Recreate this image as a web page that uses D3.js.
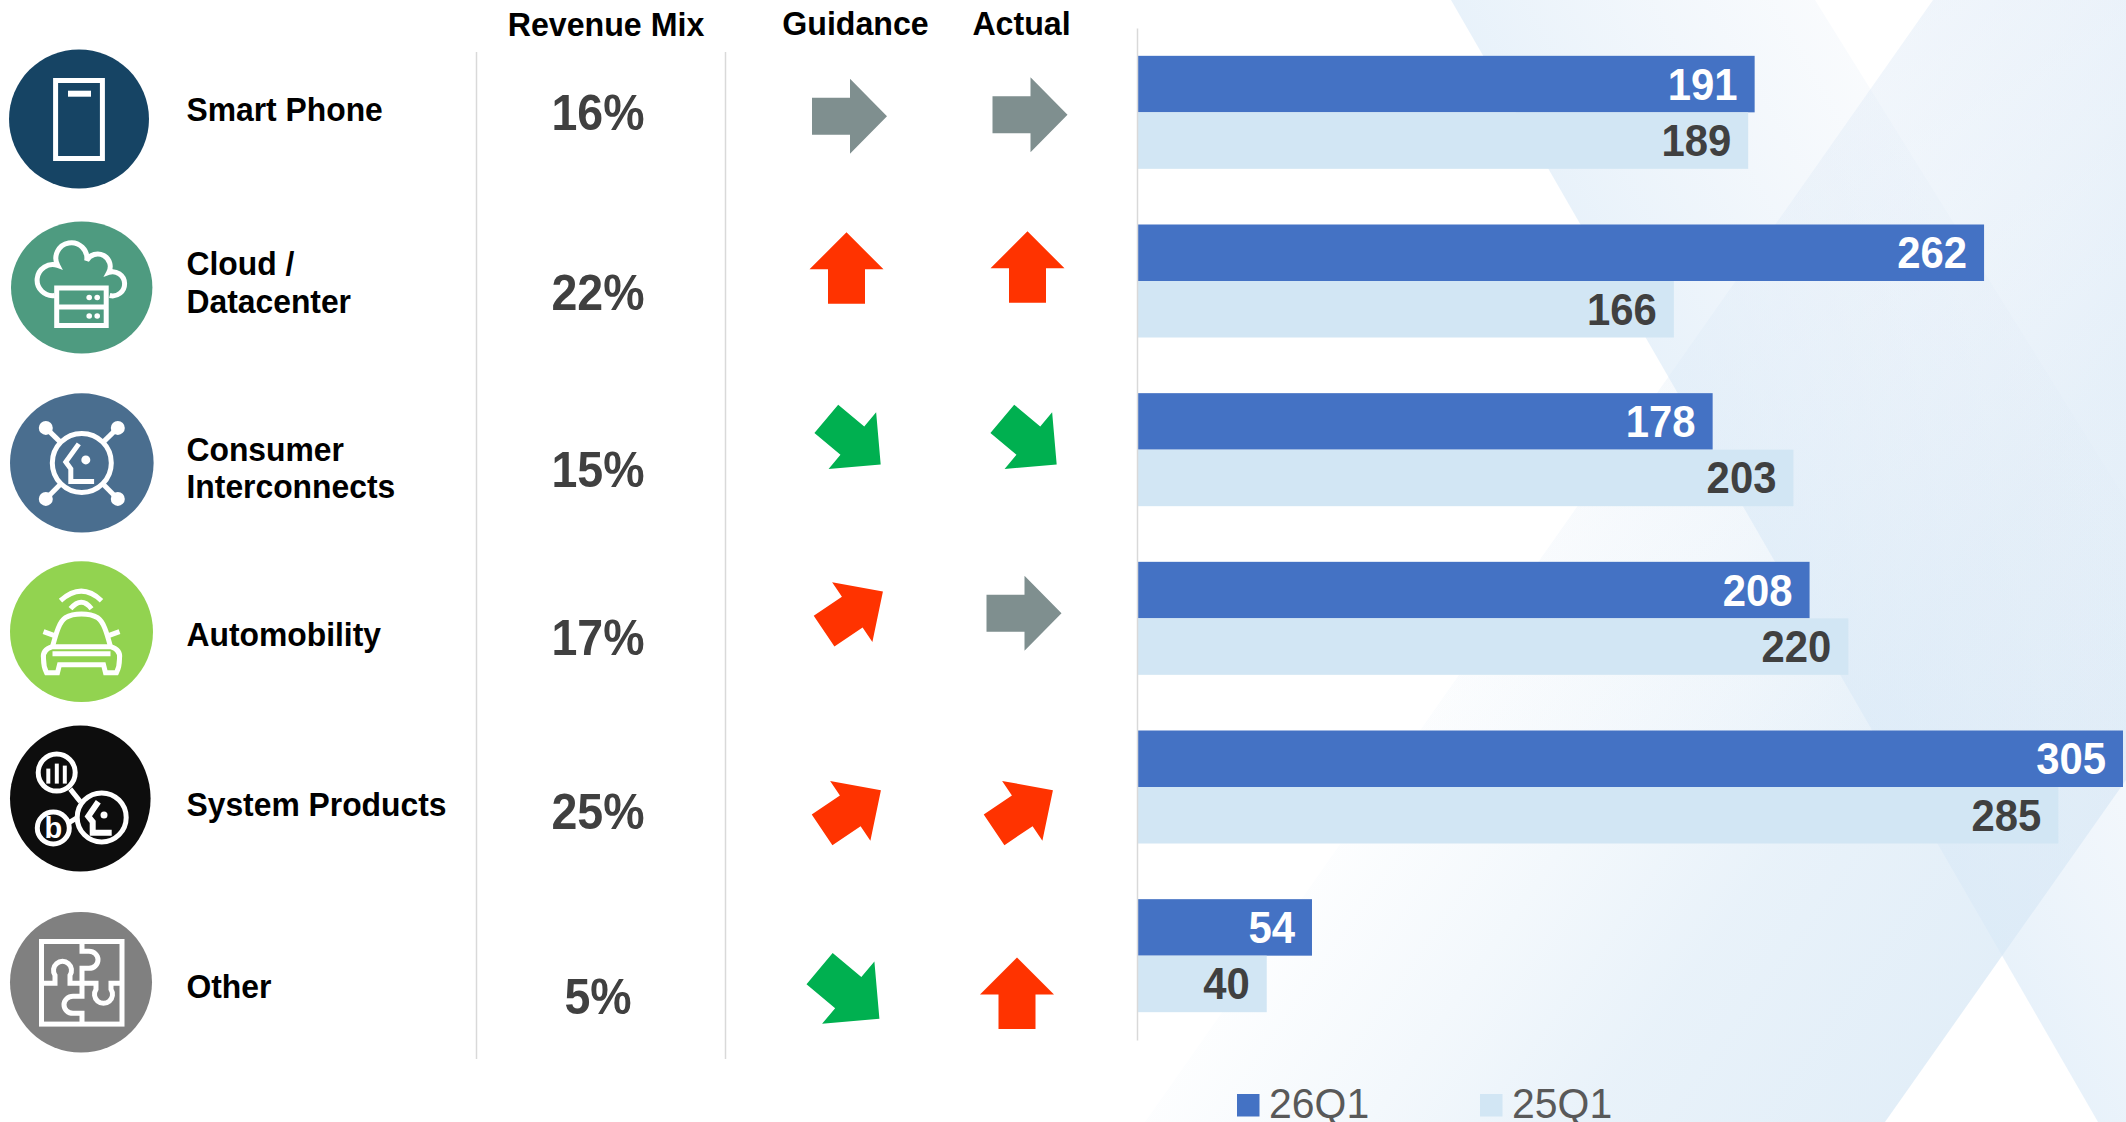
<!DOCTYPE html>
<html>
<head>
<meta charset="utf-8">
<script src="https://cdn.jsdelivr.net/npm/d3@7"></script>
<style>
  html, body { margin: 0; background: #fff; }
  svg { display: block; }
  text { font-family: "Liberation Sans", Arial, sans-serif; }
</style>
</head>
<body>
<svg></svg>
<script>
const categories = ["Smart Phone", "Cloud / Datacenter", "Consumer Interconnects", "Automobility", "System Products", "Other"];
const labelLines = [["Smart Phone"], ["Cloud /", "Datacenter"], ["Consumer", "Interconnects"], ["Automobility"], ["System Products"], ["Other"]];
const seriesNames = ["26Q1", "25Q1"];
const values26Q1 = [191, 262, 178, 208, 305, 54];
const values25Q1 = [189, 166, 203, 220, 285, 40];
const revenueMix = ["16%", "22%", "15%", "17%", "25%", "5%"];
const guidance = ["flat", "up", "down", "rise", "rise", "down"];
const actual = ["flat", "up", "down", "flat", "rise", "up"];
const arrowColumns = ["Guidance", "Actual"];

// hand placement of the row furniture, the source slide isn't on a strict grid
const labelDy = [9, -6, 11, 28, 29, 42];
const mixDy = [18, 29, 37, 37, 42, 58];
const guidanceNudge = [[-6, 4], [-9, -13], [-2, -8], [-2, -7], [-4, 23], [-6, 38]];
const actualNudge = [[8.5, 2.4], [6, -14], [8, -8], [2.5, -5], [2, 23], [-4.5, 37.6]];
const guidanceScale = [1, 1, 1, 1, 1, 1.1];
const actualScale = [1, 1, 1, 1, 1, 1];
const iconSpots = [[79, 119, 70, 69.5], [81.7, 287.5, 70.7, 66], [81.8, 462.9, 71.8, 69.6], [81.5, 631.7, 71.5, 70.4], [80.3, 798.6, 70.3, 73], [81, 982.3, 71, 70.3]];
const iconColors = ["#164464", "#4e9b80", "#4a6e8f", "#92d350", "#0d0d0d", "#808080"];

const width = 2126, height = 1122;
const svg = d3.select("svg").attr("width", width).attr("height", height);

// background X, gradients run across each band
const defs = svg.append("defs");
function gradient(id, x1, x2, stops) {
  const g = defs.append("linearGradient").attr("id", id).attr("gradientUnits", "userSpaceOnUse")
    .attr("x1", x1[0]).attr("y1", x1[1]).attr("x2", x2[0]).attr("y2", x2[1]);
  stops.forEach(s => g.append("stop").attr("offset", s[0]).attr("stop-color", s[1]).attr("stop-opacity", s[2]));
}
gradient("bandA", [1451, 0], [1724, -158], [[0, "#d9e9f7", 0.6], [1, "#dfeaf6", 0.2]]);
gradient("bandB", [1933, 0], [2429, 348], [[0, "#d6e7f5", 0.06], [0.35, "#d6e7f5", 0.33], [0.6, "#d6e7f5", 0.55], [1, "#d6e7f5", 0.7]]);
gradient("bandTop", [0, 0], [0, 800], [[0, "#dce8f6", 0.4], [1, "#dce8f6", 0]]);
const bg = svg.append("g");
const slashBand = "M1933 0L2126 0L2126 780L1885 1122L1145 1122Z";
bg.append("path").attr("d", slashBand).attr("fill", "url(#bandB)");
bg.append("path").attr("d", slashBand).attr("fill", "url(#bandTop)");
bg.append("path").attr("d", "M1451 0L1815 0L2126 500L2126 1122L2098 1122Z").attr("fill", "url(#bandA)");

// scales
const y = d3.scaleBand().domain(categories).range([28, 1040]).paddingInner(0.33).paddingOuter(0.165);
const rowCenter = d => y(d) + y.bandwidth() / 2;
const y1 = d3.scaleBand().domain(seriesNames).range([0, y.bandwidth()]);
const x = d3.scaleLinear().domain([0, 305]).range([1137.5, 2123]);
const arrowX = d3.scalePoint().domain(arrowColumns).range([855.5, 1021.5]);

// separators
svg.selectAll(".sep").data([476.5, 725.5]).enter().append("line")
  .attr("class", "sep")
  .attr("x1", d => d).attr("x2", d => d)
  .attr("y1", 52).attr("y2", 1059)
  .attr("stroke", "#d9d9d9").attr("stroke-width", 1.5);

// headers
const headers = [["Revenue Mix", 606, 36], ["Guidance", arrowX("Guidance"), 35], ["Actual", arrowX("Actual"), 35]];
svg.selectAll(".header").data(headers).enter().append("text")
  .attr("class", "header")
  .attr("transform", d => `translate(${d[1]},${d[2]}) scale(0.96,1)`)
  .attr("text-anchor", "middle")
  .attr("font-size", 33.5).attr("font-weight", 700).attr("fill", "#000")
  .text(d => d[0]);

// row labels
const labels = svg.selectAll(".row-label").data(categories).enter().append("text")
  .attr("class", "row-label")
  .attr("transform", (d, i) => `translate(186.5,${rowCenter(d) + labelDy[i]}) scale(0.965,1)`)
  .attr("font-size", 33).attr("font-weight", 700).attr("fill", "#000");
labels.selectAll("tspan").data((d, i) => labelLines[i]).enter().append("tspan")
  .attr("x", 0)
  .attr("y", (d, i) => i * 37.7)
  .text(d => d);

// revenue mix
svg.selectAll(".mix").data(categories).enter().append("text")
  .attr("class", "mix")
  .attr("transform", (d, i) => `translate(598,${rowCenter(d) + mixDy[i]}) scale(0.93,1)`)
  .attr("text-anchor", "middle")
  .attr("font-size", 50).attr("font-weight", 700).attr("fill", "#404040")
  .text((d, i) => revenueMix[i]);

// arrows
const arrowStyle = {
  flat: { angle: 0, len: 75, across: 75, fill: "#7f8f8f" },
  up: { angle: -90, len: 71.4, across: 74, fill: "#ff3300" },
  down: { angle: 40, len: 71, across: 74, fill: "#00b050" },
  rise: { angle: -34, len: 71, across: 72, fill: "#ff3300" }
};
function arrowPath(s) {
  const l = s.len / 2, w = s.across / 2, t = 18.5, b = l - 37;
  return d3.line()([[-l, -t], [b, -t], [b, -w], [l, 0], [b, w], [b, t], [-l, t]]) + "Z";
}
function drawArrows(column, dirs, nudge, scale) {
  svg.selectAll(".arrow-" + column).data(categories).enter().append("path")
    .attr("class", "arrow-" + column)
    .attr("d", (d, i) => arrowPath(arrowStyle[dirs[i]]))
    .attr("fill", (d, i) => arrowStyle[dirs[i]].fill)
    .attr("transform", (d, i) => `translate(${arrowX(column) + nudge[i][0]},${rowCenter(d) + nudge[i][1]}) rotate(${arrowStyle[dirs[i]].angle}) scale(${scale[i]})`);
}
drawArrows("Guidance", guidance, guidanceNudge, guidanceScale);
drawArrows("Actual", actual, actualNudge, actualScale);

// bars
const barColors = d3.scaleOrdinal().domain(seriesNames).range(["#4472c4", "#d2e6f4"]);
const labelColors = d3.scaleOrdinal().domain(seriesNames).range(["#fff", "#404040"]);
const seriesValues = [values26Q1, values25Q1];
seriesNames.forEach((name, s) => {
  const g = svg.append("g");
  g.selectAll("rect").data(categories).enter().append("rect")
    .attr("x", x(0))
    .attr("y", d => y(d) + y1(name))
    .attr("width", (d, i) => x(seriesValues[s][i]) - x(0))
    .attr("height", y1.bandwidth())
    .attr("fill", barColors(name));
  g.selectAll("text").data(categories).enter().append("text")
    .attr("transform", (d, i) => `translate(${x(seriesValues[s][i]) - 17},${y(d) + y1(name) + y1.bandwidth() / 2 + 15.5}) scale(0.93,1)`)
    .attr("text-anchor", "end")
    .attr("font-size", 45).attr("font-weight", 700)
    .attr("fill", labelColors(name))
    .text((d, i) => seriesValues[s][i]);
});

// category axis line
svg.append("g")
  .attr("transform", "translate(1137,0)")
  .call(d3.axisLeft(y).tickSize(0).tickFormat(""))
  .call(g => g.select(".domain").attr("stroke", "#d9d9d9").attr("stroke-width", 1.5));

// legend
const legendX = d3.scaleOrdinal().domain(seriesNames).range([1237, 1480]);
const legend = svg.selectAll(".legend").data(seriesNames).enter().append("g")
  .attr("class", "legend")
  .attr("transform", d => `translate(${legendX(d)},1094)`);
legend.append("rect").attr("width", 22.5).attr("height", 22.5).attr("fill", d => barColors(d));
legend.append("text").attr("transform", "translate(32,24) scale(0.975,1)")
  .attr("font-size", 42).attr("fill", "#595959")
  .text(d => d);

// icons
const icons = svg.selectAll(".icon").data(iconSpots).enter().append("g")
  .attr("class", "icon")
  .attr("transform", d => `translate(${d[0]},${d[1]})`);
icons.append("ellipse")
  .attr("rx", d => d[2]).attr("ry", d => d[3])
  .attr("fill", (d, i) => iconColors[i]);
const glyph = icons.append("g")
  .attr("fill", "none").attr("stroke", "#fff").attr("stroke-width", 5)
  .attr("stroke-linecap", "butt").attr("stroke-linejoin", "miter");
const face = "M-3 -19L-16 -1L-11 6L-11 18.6L12.3 18.6";

// phone
const g0 = d3.select(glyph.nodes()[0]);
g0.append("rect").attr("x", -23.4).attr("y", -38.5).attr("width", 46.8).attr("height", 78);
g0.append("rect").attr("x", -11).attr("y", -28.3).attr("width", 23).attr("height", 6).attr("fill", "#fff").attr("stroke", "none");

// cloud + server
const g1 = d3.select(glyph.nodes()[1]);
g1.append("path").attr("d", "M-27 8A15.5 15.5 0 1 1 -24 -22A15.5 15.5 0 1 1 5 -27A12.5 12.5 0 0 1 27 -15A12 12 0 1 1 28 8");
g1.append("rect").attr("x", -25).attr("y", 0.5).attr("width", 49.5).attr("height", 37.5).attr("fill", iconColors[1]);
g1.append("line").attr("x1", -25).attr("x2", 24.5).attr("y1", 19.5).attr("y2", 19.5);
[[7.5, 10], [15.5, 10], [7.5, 28.5], [15.5, 28.5]].forEach(p =>
  g1.append("circle").attr("cx", p[0]).attr("cy", p[1]).attr("r", 2.8).attr("fill", "#fff").attr("stroke", "none"));

// ring with four nodes
const g2 = d3.select(glyph.nodes()[2]);
g2.append("circle").attr("r", 29.5);
[[-36, -35], [36, -35], [-36, 36], [36, 36]].forEach(p => {
  g2.append("line").attr("x1", p[0]).attr("y1", p[1]).attr("x2", p[0] * 0.58).attr("y2", p[1] * 0.58);
  g2.append("circle").attr("cx", p[0]).attr("cy", p[1]).attr("r", 7).attr("fill", "#fff").attr("stroke", "none");
});
g2.append("path").attr("d", face);
g2.append("circle").attr("cx", 4).attr("cy", -3).attr("r", 4.5).attr("fill", "#fff").attr("stroke", "none");

// car
const g3 = d3.select(glyph.nodes()[3]);
g3.append("path").attr("d", "M-21 -31Q0 -50 20 -31");
g3.append("path").attr("d", "M-11 -23Q0 -36 10 -23");
g3.append("path").attr("d", "M-29 15C-25 0 -22 -10 -16 -14C-8 -19 8 -19 16 -14C22 -10 25 0 29 15");
g3.append("path").attr("d", "M-29 15C-36 17 -39 21 -38 27C-38 33 -37 37 -35 41L-24 41L-22 33L22 33L24 41L35 41C37 37 38 33 38 27C39 21 36 17 29 15Z");
g3.append("path").attr("d", "M-29 22L29 22");
g3.append("path").attr("d", "M-27 4L-38 0M27 4L38 0");

// system products
const g4 = d3.select(glyph.nodes()[4]);
g4.append("circle").attr("cx", -23.6).attr("cy", -26).attr("r", 18.5);
g4.append("circle").attr("cx", -27).attr("cy", 29.4).attr("r", 16);
g4.append("circle").attr("cx", 21.4).attr("cy", 18.8).attr("r", 24.5);
g4.append("path").attr("d", "M-10 -9.5L0 3M-13 25L-3 19");
[[-32, -4], [-23.5, -9], [-15.5, -7]].forEach(p =>
  g4.append("line").attr("x1", p[0]).attr("x2", p[0]).attr("y1", -26 + p[1]).attr("y2", -26 + 11).attr("stroke-width", 4));
g4.append("text").attr("x", -27).attr("y", 39).attr("text-anchor", "middle")
  .attr("font-size", 29).attr("font-weight", 700).attr("fill", "#fff").attr("stroke", "none").text("b");
g4.append("path").attr("d", "M18 3.1L8 17.7L12.4 23.2L12.4 34.1L31.4 34.1").attr("stroke-width", 6);
g4.append("circle").attr("cx", 23.7).attr("cy", 16.4).attr("r", 3.5).attr("fill", "#fff").attr("stroke", "none");

// puzzle
const g5 = d3.select(glyph.nodes()[5]);
g5.append("rect").attr("x", -39.5).attr("y", -40.8).attr("width", 80.5).attr("height", 82.6);
g5.append("path").attr("d", "M1 -41V-31H8A9 8.5 0 1 1 8 -14H1V1");
g5.append("path").attr("d", "M1 1V14H-8A9 8.5 0 1 0 -8 31H1V41");
g5.append("path").attr("d", "M-40 1H-26V-7A9 9 0 1 1 -11 -7V1H1");
g5.append("path").attr("d", "M1 1H15V7A9 9 0 1 0 30 7V1H41");
</script>
</body>
</html>
